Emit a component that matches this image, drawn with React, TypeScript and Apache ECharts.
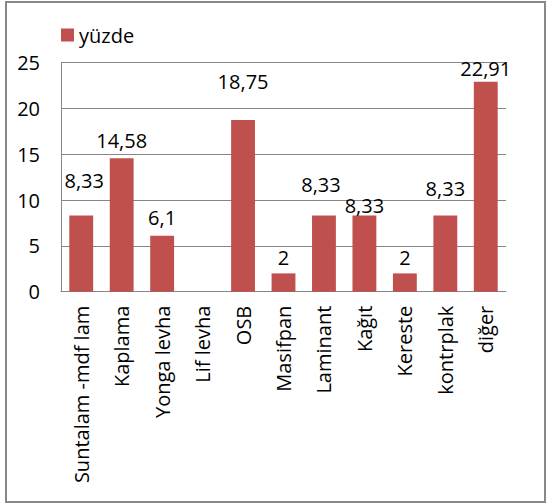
import React, { useEffect, useRef } from "react";
import * as echarts from "echarts";

const categories = [
  "Suntalam -mdf lam",
  "Kaplama",
  "Yonga levha",
  "Lif levha",
  "OSB",
  "Masifpan",
  "Laminant",
  "Kağıt",
  "Kereste",
  "kontrplak",
  "diğer",
];
const values: (number | null)[] = [8.33, 14.58, 6.1, null, 18.75, 2, 8.33, 8.33, 2, 8.33, 22.91];
const seriesName = "yüzde";
const yTicks = { min: 0, max: 25, interval: 5 };

// label placement tweaks (style only)
const labelOffsets: [number, number][] = [
  [3, -25], [0, -8], [0, -8], [0, 0], [0, -28], [0, -6], [-3, -21], [0, 0], [0, -6], [0, -17], [0, -3],
];

const FONT = "'Open Sans', sans-serif";

export default function App() {
  const ref = useRef<HTMLDivElement>(null);
  useEffect(() => {
    if (!ref.current) return;
    const chart = echarts.init(ref.current, undefined, { renderer: "svg" });
    chart.setOption({
      animation: false,
      backgroundColor: "#ffffff",
      textStyle: { fontFamily: FONT },
      graphic: [
        {
          type: "rect",
          shape: { x: 6, y: 2, width: 539, height: 500 },
          style: { fill: "none", stroke: "#878787", lineWidth: 2 },
          silent: true,
        },
      ],
      legend: {
        data: [seriesName],
        left: 56,
        top: 20,
        icon: "rect",
        itemWidth: 13,
        itemHeight: 13,
        itemGap: 4,
        textStyle: { fontSize: 20, color: "#000", fontFamily: FONT },
      },
      grid: { left: 61, right: 45, top: 62.7, bottom: 212.3, containLabel: false },
      xAxis: {
        type: "category",
        data: categories,
        axisLine: { show: true, lineStyle: { color: "#868686", width: 1 } },
        axisTick: { show: false },
        axisLabel: {
          rotate: 90,
          interval: 0,
          margin: 14,
          fontSize: 20,
          color: "#000",
          fontFamily: FONT,
        },
      },
      yAxis: {
        type: "value",
        min: yTicks.min,
        max: yTicks.max,
        interval: yTicks.interval,
        axisLine: { show: true, lineStyle: { color: "#868686", width: 1 } },
        axisTick: { show: false },
        splitLine: { show: true, lineStyle: { color: "#868686", width: 1 } },
        axisLabel: { fontSize: 20, color: "#000", margin: 21, fontFamily: FONT },
      },
      series: [
        {
          name: seriesName,
          type: "bar",
          barWidth: "59%",
          itemStyle: { color: "#C0504D" },
          data: values.map((v, i) => ({
            value: v,
            label: {
              show: v !== null,
              position: "top",
              distance: 0,
              offset: labelOffsets[i],
              fontSize: 20,
              color: "#000",
              fontFamily: FONT,
              formatter: (p: any) => String(p.value).replace(".", ","),
            },
          })),
        },
      ],
    });
    return () => chart.dispose();
  }, []);
  return (
    <div
      ref={ref}
      style={{ position: "fixed", left: 0, top: 0, width: 551, height: 504 }}
    />
  );
}
